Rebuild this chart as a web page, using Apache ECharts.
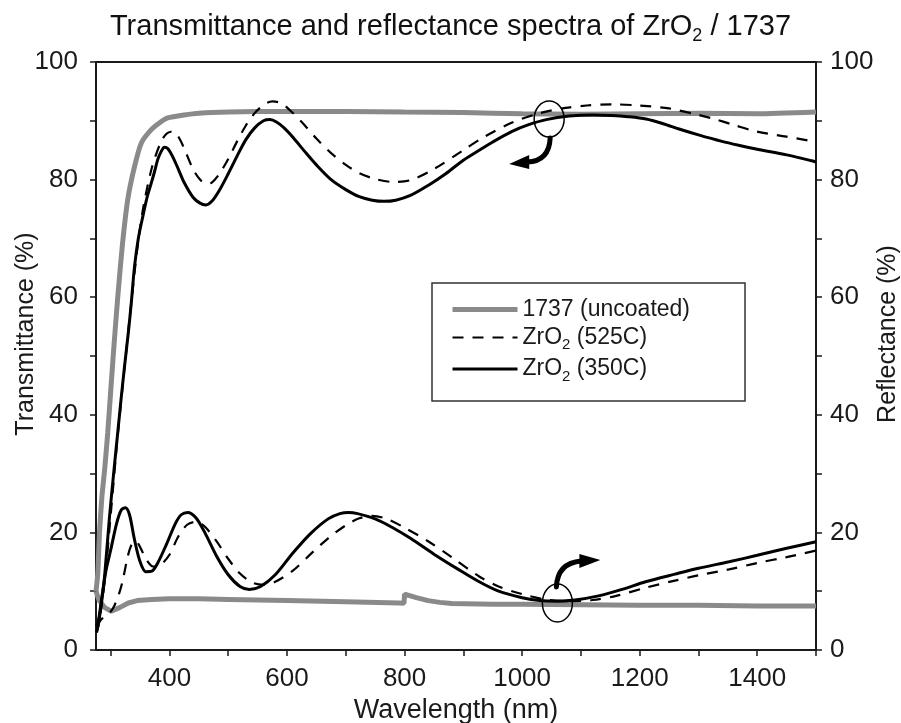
<!DOCTYPE html>
<html><head><meta charset="utf-8">
<script src="https://cdn.jsdelivr.net/npm/echarts@6/dist/echarts.min.js"></script>
<style>html,body{margin:0;padding:0;background:#fff}#c{width:901px;height:723px}</style>
</head><body><div id="c"></div>
<script>
// ---- data ----
const xLabelTicks = [400, 600, 800, 1000, 1200, 1400];
const xMinorTicks = [300, 400, 500, 600, 700, 800, 900, 1000, 1100, 1200, 1300, 1400, 1500];
const yLabelTicks = [0, 20, 40, 60, 80, 100];

const seriesNames = ['1737 (uncoated)', 'ZrO2 (525C)', 'ZrO2 (350C)'];

// 1737 uncoated - transmittance
const uncT_wl = [275,278,281,285,290,295,300,305,312,320,329,340,352,369,385,397,425,450,500,600,700,800,900,1000,1100,1200,1300,1400,1500];
const uncT    = [10,13,20,26,31,37,44,51,60,69,76.6,82,86.2,88.5,89.8,90.5,91,91.3,91.5,91.6,91.6,91.5,91.4,91.2,91.1,91.2,91.3,91.2,91.5];
// 1737 uncoated - reflectance
const uncR_wl = [275,280,290,301,315,330,345,370,400,450,500,600,700,790,799,800,810,820,840,860,880,950,1000,1100,1200,1300,1400,1500];
const uncR    = [10,8.5,7.2,6.6,7.2,8.0,8.4,8.6,8.7,8.7,8.6,8.4,8.2,8.0,7.95,9.5,9.2,8.9,8.4,8.1,7.9,7.8,7.8,7.7,7.6,7.6,7.5,7.5];

// ZrO2 350C - transmittance
const z350T_wl = [276,280,285,290,298,305,312,318,323.5,330,335,340.5,347,354.6,362,369,375,380,386,391.5,397,405,415,425,440,452,462,472,485,500,515,530,545,560,571,582,595,610,630,650,675,700,723,745,765,785,810,840,870,900,927,950,983,1010,1041,1080,1120,1153,1180,1211,1240,1267,1300,1340,1370,1398,1450,1493,1500];
const z350T    = [3,5,8.5,13,22.7,30,37,43,48.2,54,59,65.2,70,73.7,77,79.4,81.5,83.4,84.8,85.5,85.3,84,81.8,79.5,77,76,75.7,76.3,78.2,81,84,86.8,88.8,90,90.2,89.8,88.8,87.2,84.8,82.5,80,78.3,77.1,76.5,76.3,76.5,77.3,79,81,83.3,85,86.4,88.2,89.3,90.2,90.8,91,90.9,90.7,90.3,89.5,88.6,87.6,86.5,85.8,85.2,84.2,83.2,83];
// ZrO2 350C - reflectance
const z350R_wl = [276,280,285,292,300,310,318,325,332,340,350,360,370,380,395,410,420,431,445,460,480,500,520,536,555,580,610,640,670,690,705,720,750,780,810,850,890,927,960,1000,1030,1060,1090,1130,1170,1210,1260,1300,1352,1400,1450,1500];
const z350R    = [4,5.5,9,13.5,17,21.5,23.8,24.2,23,19,15,13.3,13.4,14.8,18,21.5,23,23.4,22.5,20,16,12.8,10.8,10.3,10.8,12.8,16.5,19.8,22.3,23.2,23.4,23.2,22.3,20.8,19,16.3,13.8,11.6,10,8.9,8.4,8.3,8.5,9.2,10.3,11.6,12.9,13.9,15,16.1,17.3,18.4];

// ZrO2 525C - transmittance
const z525T_wl = [276,280,290,300,312,323,335,345,355,370,385,395,405,415,425,440,452,462,472,485,500,515,530,545,560,575,590,605,625,650,675,700,723,750,780,810,850,900,936,983,1030,1074,1110,1153,1200,1250,1300,1324,1360,1398,1450,1500];
const z525T    = [3,4.5,12,23,36.5,47.5,59,68,75,82,86.3,87.8,88.2,87.3,85.3,81.8,80,79.3,79.5,81,83.5,86.5,89.2,91.3,92.7,93.3,93,91.8,89.8,87,84.5,82.5,81.1,80.1,79.6,79.9,81.8,85,87.3,89.7,91.3,92.2,92.6,92.8,92.6,92.1,91,90.4,89.3,88.2,87.3,86.4];
// ZrO2 525C - reflectance
const z525R_wl = [276,285,298,306,314,320,329,336,343,350,360,372,385,400,415,430,445,460,480,500,520,540,560,580,610,640,670,700,723,745,770,800,840,880,927,960,1000,1040,1080,1120,1160,1210,1260,1300,1352,1400,1450,1500];
const z525R    = [4,5.3,6.3,7.5,9.5,11.6,15.9,18,18.5,17.5,15.5,14.2,14.5,16.2,19.3,21.3,21.8,21,18.5,15.5,13,11.5,11.1,11.6,13.5,16.3,19,21.2,22.4,22.8,22.3,20.8,18.5,15.8,12.5,10.8,9.5,8.6,8.3,8.5,9.2,10.6,11.8,12.7,13.7,14.8,15.8,16.9];

// ---- chart ----
const FONT = 'Liberation Sans, Arial, Helvetica, sans-serif';
const zip = (a, b) => a.map((x, i) => [x, b[i]]);
const GRAY = '#8a8a8a';
const DASH = [11, 9];
const plain = v => String(v);

const chart = echarts.init(document.getElementById('c'), null, {renderer: 'canvas'});

const axisCommonY = {
  type: 'value', min: 0, max: 100, interval: 10,
  axisLine: {show: true, lineStyle: {color: '#1a1a1a', width: 2}},
  axisTick: {show: true, inside: false, length: 6, lineStyle: {color: '#1a1a1a', width: 1.5}},
  axisLabel: {customValues: yLabelTicks, formatter: plain, fontSize: 26, color: '#1a1a1a', fontFamily: FONT},
  splitLine: {show: false},
  nameLocation: 'middle', nameRotate: 90, nameMoveOverlap: false
};

const legendRich = {
  t: {fontSize: 23, lineHeight: 30, color: '#1a1a1a', fontFamily: FONT},
  s: {fontSize: 15, lineHeight: 11, verticalAlign: 'bottom', color: '#1a1a1a', fontFamily: FONT}
};

chart.setOption({
  animation: false,
  backgroundColor: '#fff',
  title: {
    text: '{a|Transmittance and reflectance spectra of ZrO}{b|2}{a| / 1737}',
    left: 'center', top: 4,
    textStyle: {
      fontWeight: 'normal',
      rich: {
        a: {fontSize: 29, fontWeight: 'normal', lineHeight: 36, color: '#111', fontFamily: FONT},
        b: {fontSize: 18, fontWeight: 'normal', lineHeight: 13, verticalAlign: 'bottom', color: '#111', fontFamily: FONT}
      }
    }
  },
  grid: {left: 96, right: 85, top: 62, bottom: 73, containLabel: false, outerBoundsMode: 'none'},
  legend: {
    orient: 'vertical', left: 432, top: 283,
    padding: [15, 55, 17, 18],
    itemWidth: 65, itemHeight: 14, itemGap: 5, itemTextGap: 7,
    borderColor: '#333', borderWidth: 1.5, borderRadius: 0,
    itemStyle: {opacity: 0},
    data: [
      {name: seriesNames[0], itemStyle: {opacity: 0}, lineStyle: {width: 5, color: GRAY, type: 'solid'}},
      {name: seriesNames[1], itemStyle: {opacity: 0}, lineStyle: {width: 2.2, color: '#000', type: DASH}},
      {name: seriesNames[2], itemStyle: {opacity: 0}, lineStyle: {width: 3, color: '#000', type: 'solid'}}
    ],
    formatter: function (name) {
      if (name.indexOf('ZrO2') === 0) return '{t|ZrO}{s|2}{t|' + name.slice(4) + '}';
      return '{t|' + name + '}';
    },
    textStyle: {rich: legendRich}
  },
  xAxis: [
    {
      type: 'value', min: 275, max: 1500, position: 'bottom',
      name: 'Wavelength (nm)', nameLocation: 'middle', nameGap: 47, nameMoveOverlap: false,
      nameTextStyle: {fontSize: 27, color: '#1a1a1a', fontFamily: FONT},
      axisLine: {show: true, onZero: false, lineStyle: {color: '#1a1a1a', width: 2}},
      axisTick: {show: true, inside: false, length: 6, customValues: xMinorTicks, lineStyle: {color: '#1a1a1a', width: 1.5}},
      axisLabel: {customValues: xLabelTicks, formatter: plain, fontSize: 26, margin: 16, color: '#1a1a1a', fontFamily: FONT},
      splitLine: {show: false}
    },
    {
      type: 'value', min: 275, max: 1500, position: 'top',
      axisLine: {show: true, onZero: false, lineStyle: {color: '#1a1a1a', width: 2}},
      axisTick: {show: false}, axisLabel: {show: false}, splitLine: {show: false}
    }
  ],
  yAxis: [
    Object.assign({}, axisCommonY, {
      position: 'left', name: 'Transmittance (%)', nameGap: 57,
      nameTextStyle: {fontSize: 25, color: '#1a1a1a', fontFamily: FONT, padding: [0, 0, 0, 44]},
      axisLabel: Object.assign({}, axisCommonY.axisLabel, {margin: 18})
    }),
    Object.assign({}, axisCommonY, {
      position: 'right', name: 'Reflectance (%)', nameGap: 60,
      nameTextStyle: {fontSize: 25, color: '#1a1a1a', fontFamily: FONT, padding: [0, 0, 0, 44]},
      axisLabel: Object.assign({}, axisCommonY.axisLabel, {margin: 14})
    })
  ],
  series: [
    {name: seriesNames[0], type: 'line', xAxisIndex: 0, yAxisIndex: 0, data: zip(uncT_wl, uncT), symbol: 'none', smooth: 0.2,
      lineStyle: {color: GRAY, width: 5}, itemStyle: {color: GRAY}, z: 2},
    {name: seriesNames[0], type: 'line', xAxisIndex: 0, yAxisIndex: 1, data: zip(uncR_wl, uncR), symbol: 'none', smooth: false,
      lineStyle: {color: GRAY, width: 5}, itemStyle: {color: GRAY}, z: 2},
    {name: seriesNames[1], type: 'line', xAxisIndex: 0, yAxisIndex: 0, data: zip(z525T_wl, z525T), symbol: 'none', smooth: 0.3,
      lineStyle: {color: '#000', width: 2.2, type: DASH}, itemStyle: {color: '#000'}, z: 3},
    {name: seriesNames[1], type: 'line', xAxisIndex: 0, yAxisIndex: 1, data: zip(z525R_wl, z525R), symbol: 'none', smooth: 0.3,
      lineStyle: {color: '#000', width: 2.2, type: DASH}, itemStyle: {color: '#000'}, z: 3},
    {name: seriesNames[2], type: 'line', xAxisIndex: 0, yAxisIndex: 0, data: zip(z350T_wl, z350T), symbol: 'none', smooth: 0.3,
      lineStyle: {color: '#000', width: 3}, itemStyle: {color: '#000'}, z: 4},
    {name: seriesNames[2], type: 'line', xAxisIndex: 0, yAxisIndex: 1, data: zip(z350R_wl, z350R), symbol: 'none', smooth: 0.3,
      lineStyle: {color: '#000', width: 3}, itemStyle: {color: '#000'}, z: 4}
  ]
});

// ---- annotations: ellipses and curved arrows ----
const topMark = [1046, 90.3];
const botMark = [1060, 8.0];
const p1 = chart.convertToPixel({xAxisIndex: 0, yAxisIndex: 0}, topMark);
const p2 = chart.convertToPixel({xAxisIndex: 0, yAxisIndex: 1}, botMark);
const ink = '#000';
chart.setOption({
  graphic: [
    {type: 'ellipse', shape: {cx: p1[0], cy: p1[1], rx: 15, ry: 18}, style: {fill: null, stroke: ink, lineWidth: 1.5}, z: 10},
    {type: 'bezierCurve', shape: {x1: p1[0] + 1, y1: p1[1] + 19, cpx1: p1[0], cpy1: p1[1] + 42, x2: p1[0] - 22, y2: p1[1] + 43},
      style: {fill: null, stroke: ink, lineWidth: 5, lineCap: 'round'}, z: 10},
    {type: 'polygon', shape: {points: [[p1[0] - 20, p1[1] + 36], [p1[0] - 20, p1[1] + 50], [p1[0] - 40, p1[1] + 45]]},
      style: {fill: ink}, z: 10},
    {type: 'ellipse', shape: {cx: p2[0], cy: p2[1], rx: 15, ry: 19}, style: {fill: null, stroke: ink, lineWidth: 1.5}, z: 10},
    {type: 'bezierCurve', shape: {x1: p2[0] - 1, y1: p2[1] - 16, cpx1: p2[0], cpy1: p2[1] - 40, x2: p2[0] + 24, y2: p2[1] - 42},
      style: {fill: null, stroke: ink, lineWidth: 5, lineCap: 'round'}, z: 10},
    {type: 'polygon', shape: {points: [[p2[0] + 22, p2[1] - 49], [p2[0] + 22, p2[1] - 35], [p2[0] + 43, p2[1] - 43]]},
      style: {fill: ink}, z: 10}
  ]
});
</script></body></html>
